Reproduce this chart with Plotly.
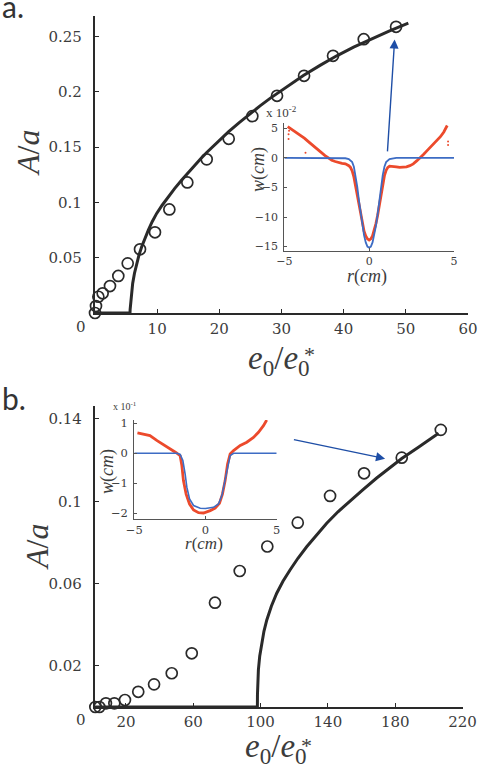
import plotly.graph_objects as go

W, H = 489, 771

# ---------------- Panel a data ----------------
a_pts_x = [0, 0.16, 0.54, 1.23, 2.41, 3.75, 5.26, 7.24, 9.65, 11.96, 14.85, 17.97, 21.51, 25.31, 29.28, 33.63, 38.29, 43.23, 48.43]
a_pts_y = [0, 0.0063, 0.0147, 0.0178, 0.0244, 0.0335, 0.0449, 0.0576, 0.073, 0.0937, 0.1181, 0.139, 0.1576, 0.1781, 0.1965, 0.2146, 0.2327, 0.2477, 0.2589]
a_curve_x = [0, 5.63, 5.65, 5.69, 5.74, 5.88, 6.06, 6.35, 6.71, 7.08, 7.51, 8.0, 8.58, 9.2, 9.92, 10.8, 11.8, 12.8, 13.95, 15.0, 16.09, 17.0, 17.97, 19.7, 21.5, 23.2, 25.0, 26.6, 28.16, 30.8, 33.52, 36.2, 38.89, 41.6, 44.25, 47.3, 50.4]
a_curve_y = [0, 0, 0.003, 0.006, 0.0088, 0.018, 0.0268, 0.036, 0.0449, 0.0525, 0.0599, 0.0675, 0.075, 0.0826, 0.0901, 0.0975, 0.1052, 0.1125, 0.1203, 0.1272, 0.134, 0.1395, 0.1452, 0.1548, 0.1641, 0.1723, 0.1806, 0.1876, 0.1942, 0.2047, 0.2148, 0.224, 0.2327, 0.2405, 0.2476, 0.2551, 0.2622]
a_xticks = [10, 20, 30, 40, 50, 60]
a_yticks = [0.05, 0.1, 0.15, 0.2, 0.25]
a_yticktext = ["0.05", "0.1", "0.15", "0.2", "0.25"]

# inset a
ia_red_r = [-4.8, -4.6, -4.4, -4.2, -4.0, -3.8, -3.6, -3.4, -3.2, -3.0, -2.8, -2.6, -2.4, -2.2, -2.0, -1.8, -1.6, -1.4, -1.2, -1.1, -1.0, -0.9, -0.8, -0.7, -0.6, -0.5, -0.4, -0.3, -0.2, -0.1, 0, 0.1, 0.2, 0.3, 0.4, 0.5, 0.6, 0.7, 0.8, 0.9, 1.0, 1.1, 1.2, 1.4, 1.6, 1.8, 2.0, 2.2, 2.4, 2.6, 2.8, 3.0, 3.2, 3.4, 3.6, 3.8, 4.0, 4.2, 4.4, 4.6]
ia_red_w = [5.3, 4.9, 4.6, 4.2, 3.8, 3.3, 2.8, 2.3, 1.8, 1.3, 0.8, 0.4, 0.0, -0.4, -0.6, -0.8, -0.9, -1.0, -1.3, -1.6, -2.2, -3.2, -4.8, -6.6, -8.3, -9.9, -11.2, -12.4, -13.2, -13.7, -13.9, -13.7, -13.2, -12.3, -11.1, -9.7, -8.0, -6.2, -4.4, -3.0, -2.1, -1.6, -1.4, -1.4, -1.5, -1.6, -1.6, -1.5, -1.3, -1.0, -0.5, 0.0, 0.6, 1.2, 1.8, 2.4, 3.0, 3.6, 4.4, 5.5]
ia_out_r = [-4.75, -4.75, -4.72, -3.75, 4.65, 4.65]
ia_out_w = [3.2, 4.0, 4.6, 0.9, 2.2, 2.8]
ia_blue_r = [-5, -1.6, -1.4, -1.2, -1.0, -0.9, -0.8, -0.7, -0.6, -0.5, -0.4, -0.3, -0.2, -0.1, 0, 0.1, 0.2, 0.3, 0.4, 0.5, 0.6, 0.7, 0.8, 0.9, 1.0, 1.2, 1.4, 1.6, 5]
ia_blue_w = [0, 0, -0.05, -0.2, -0.7, -1.5, -2.9, -4.9, -7.2, -9.5, -11.5, -13.1, -14.3, -15.0, -15.2, -15.0, -14.3, -13.1, -11.5, -9.5, -7.2, -4.9, -2.9, -1.5, -0.7, -0.2, -0.05, 0, 0]
ia_yticks = [5, 0, -5, -10, -15]
ia_xticks = [-5, 0, 5]

# ---------------- Panel b data ----------------
b_pts_x = [1.8, 4.2, 8.1, 13.1, 19.4, 27.3, 36.7, 47.2, 59.1, 72.9, 87.6, 104.0, 122.1, 141.3, 161.5, 183.9, 207.1]
b_pts_y = [0, 0, 0.0018, 0.0018, 0.0034, 0.0074, 0.011, 0.0164, 0.0261, 0.0507, 0.0661, 0.078, 0.0896, 0.1026, 0.1136, 0.1212, 0.1347]
b_curve_x = [1.6, 98.1, 98.15, 98.3, 98.7, 99.5, 100.7, 102.0, 103.7, 106.4, 109.6, 113.3, 117.5, 122.2, 127.4, 133.1, 139.3, 146.0, 153.2, 160.9, 169.0, 176.4, 183.9, 193.8, 203.7, 205.8]
b_curve_y = [0, 0, 0.006, 0.012, 0.018, 0.0248, 0.031, 0.0368, 0.0423, 0.049, 0.0553, 0.0611, 0.0666, 0.0723, 0.0779, 0.0836, 0.0893, 0.0949, 0.1002, 0.1056, 0.1113, 0.1161, 0.1208, 0.1263, 0.1319, 0.1331]
b_xticks = [20, 60, 100, 140, 180, 220]
b_yticks = [0.02, 0.06, 0.1, 0.14]
b_yticktext = ["0.02", "0.06", "0.1", "0.14"]

# inset b
ib_red_r = [-4.78, -4.4, -3.9, -3.4, -2.95, -2.48, -2.06, -1.78, -1.66, -1.55, -1.36, -1.12, -0.84, -0.49, -0.14, 0.33, 0.68, 0.98, 1.19, 1.38, 1.55, 1.73, 1.97, 2.44, 2.9, 3.37, 3.72, 4.07, 4.3]
ib_red_w = [0.68, 0.64, 0.59, 0.42, 0.29, 0.14, 0.02, -0.08, -0.41, -0.91, -1.36, -1.69, -1.89, -1.98, -1.99, -1.91, -1.83, -1.67, -1.36, -0.91, -0.36, -0.02, 0.09, 0.26, 0.37, 0.53, 0.7, 0.92, 1.11]
ib_blue_r = [-5, -2.0, -1.78, -1.59, -1.43, -1.31, -1.12, -0.84, -0.37, 0, 0.56, 0.91, 1.15, 1.38, 1.57, 1.73, 1.97, 5]
ib_blue_w = [0, 0, -0.04, -0.24, -0.69, -1.13, -1.52, -1.74, -1.83, -1.84, -1.8, -1.69, -1.41, -0.91, -0.41, -0.08, 0, 0]
ib_yticks = [1, 0, -1, -2]
ib_xticks = [-5, 0, 5]

# arrows (head, tail) in main-axis data coordinates
arrow_a = dict(x=48.2, y=0.2475, ax=47.03, ay=0.1449)
arrow_b = dict(x=174.0, y=0.1207, ax=118.9, ay=0.1301)

# ---------------- styling ----------------
INK = "#2a2a2a"
TXT = "#3c3c3c"
RED = "#ec4a2c"
BLUE = "#3d6cc4"
ARROW = "#1e4ea6"
SERIF = "Liberation Serif, DejaVu Serif, Times New Roman, serif"
TICKF = "DejaVu Serif, Liberation Serif, serif"


def px_x(p):
    return p / W


def px_y(p):
    return 1 - p / H


fig = go.Figure()

# panel a main
fig.add_trace(go.Scatter(x=a_curve_x, y=a_curve_y, mode="lines", line=dict(color=INK, width=3),
                         xaxis="x", yaxis="y", hoverinfo="skip"))
fig.add_trace(go.Scatter(x=a_pts_x, y=a_pts_y, mode="markers",
                         marker=dict(symbol="circle-open", size=11, color=INK, line=dict(width=1.7)),
                         xaxis="x", yaxis="y", cliponaxis=False))
# inset a
fig.add_trace(go.Scatter(x=ia_red_r, y=ia_red_w, mode="lines", line=dict(color=RED, width=2.8),
                         xaxis="x2", yaxis="y2"))
fig.add_trace(go.Scatter(x=ia_out_r, y=ia_out_w, mode="markers", marker=dict(color=RED, size=2),
                         xaxis="x2", yaxis="y2"))
fig.add_trace(go.Scatter(x=ia_blue_r, y=ia_blue_w, mode="lines", line=dict(color=BLUE, width=1.8),
                         xaxis="x2", yaxis="y2"))
# panel b main
fig.add_trace(go.Scatter(x=b_curve_x, y=b_curve_y, mode="lines", line=dict(color=INK, width=3),
                         xaxis="x3", yaxis="y3"))
fig.add_trace(go.Scatter(x=b_pts_x, y=b_pts_y, mode="markers",
                         marker=dict(symbol="circle-open", size=11, color=INK, line=dict(width=1.7)),
                         xaxis="x3", yaxis="y3", cliponaxis=False))
# inset b
fig.add_trace(go.Scatter(x=ib_red_r, y=ib_red_w, mode="lines", line=dict(color=RED, width=2.8),
                         xaxis="x4", yaxis="y4"))
fig.add_trace(go.Scatter(x=ib_blue_r, y=ib_blue_w, mode="lines", line=dict(color=BLUE, width=1.6),
                         xaxis="x4", yaxis="y4"))

main_tick_font = dict(family=TICKF, size=15, color=TXT)
inset_tick_font = dict(family=TICKF, size=11, color=TXT)


def main_axis(**kw):
    d = dict(showline=True, linecolor=INK, linewidth=2.2, ticks="inside", ticklen=4, tickwidth=1.3,
             tickcolor=INK, showgrid=False, zeroline=False, tickfont=main_tick_font, fixedrange=True,
             automargin=False)
    d.update(kw)
    return d


def inset_axis(**kw):
    d = dict(showline=True, linecolor="#555555", linewidth=1.2, ticks="inside", ticklen=3, tickwidth=1,
             tickcolor="#555555", showgrid=False, zeroline=False, tickfont=inset_tick_font, fixedrange=True,
             automargin=False)
    d.update(kw)
    return d


fig.update_layout(
    width=W, height=H, autosize=False, margin=dict(l=0, r=0, t=0, b=0, pad=0, autoexpand=False),
    paper_bgcolor="white", plot_bgcolor="rgba(0,0,0,0)", showlegend=False,
    xaxis=main_axis(domain=[px_x(95), px_x(468)], range=[0, 60], tickvals=a_xticks, anchor="y", ticklabelstandoff=1),
    yaxis=main_axis(domain=[px_y(313), px_y(16)], range=[0, 0.2687], tickvals=a_yticks, ticktext=a_yticktext,
                    anchor="x", ticklabelstandoff=8),
    xaxis2=inset_axis(domain=[px_x(284.3), px_x(454)], range=[-5, 5], tickvals=ia_xticks, anchor="y2",
                      ticklabelstandoff=0),
    yaxis2=inset_axis(domain=[px_y(250.7), px_y(122.7)], range=[-15.7, 5.97], tickvals=ia_yticks, anchor="x2",
                      ticklabelstandoff=3),
    xaxis3=main_axis(domain=[px_x(95), px_x(462.5)], range=[1.6, 220], tickvals=b_xticks, anchor="y3", ticklabelstandoff=0),
    yaxis3=main_axis(domain=[px_y(707), px_y(406)], range=[0, 0.1463], tickvals=b_yticks, ticktext=b_yticktext,
                     anchor="x3", ticklabelstandoff=8),
    xaxis4=inset_axis(domain=[px_x(134.3), px_x(276.7)], range=[-5, 5], tickvals=ib_xticks, anchor="y4",
                      ticklabelstandoff=0, tickfont=dict(family=TICKF, size=11.5, color=TXT)),
    yaxis4=inset_axis(domain=[px_y(519), px_y(420)], range=[-2.19, 1.11], tickvals=ib_yticks, anchor="x4",
                      ticklabelstandoff=3, tickfont=dict(family=TICKF, size=11.5, color=TXT)),
)

ann = []


def txt(x, y, text, size, family=SERIF, color=TXT, angle=0, xanchor="center", yanchor="middle"):
    ann.append(dict(x=px_x(x), y=px_y(y), xref="paper", yref="paper", text=text, showarrow=False,
                    font=dict(family=family, size=size, color=color), textangle=angle,
                    xanchor=xanchor, yanchor=yanchor))


# panel labels
txt(0, 6, "a.", 30, family="Lato", color="#333333", xanchor="left")
txt(0, 398, "b.", 30, family="Lato", color="#333333", xanchor="left")
# corner zeros
txt(81, 327, "0", 15, family=TICKF)
txt(81, 720, "0", 15, family=TICKF)
# main axis titles
txt(28, 153, "<i>A</i>/<i>a</i>", 32, angle=-90)
txt(37, 547, "<i>A</i>/<i>a</i>", 32, angle=-90)
txt(279, 360, "<i>e</i><sub>0</sub>/<i>e</i><sub>0</sub>", 33)
txt(309, 355, "*", 22)
txt(276, 748, "<i>e</i><sub>0</sub>/<i>e</i><sub>0</sub>", 33)
txt(306, 745, "*", 22)
# inset titles
txt(258, 170, "<i>w</i>(<i>cm</i>)", 18, angle=-90)
txt(367, 276, "<i>r</i>(<i>cm</i>)", 18)
txt(281, 112, "x 10<sup>-2</sup>", 13)
txt(107, 472, "<i>w</i>(<i>cm</i>)", 18, angle=-90)
txt(204, 543, "<i>r</i>(<i>cm</i>)", 17)
txt(125, 406, "x 10<sup>-1</sup>", 10)

# arrows
ann.append(dict(xref="x", yref="y", axref="x", ayref="y", **arrow_a, showarrow=True, text="",
                arrowhead=2, arrowsize=1.3, arrowwidth=1.4, arrowcolor=ARROW))
ann.append(dict(xref="x3", yref="y3", axref="x3", ayref="y3", **arrow_b, showarrow=True, text="",
                arrowhead=2, arrowsize=1.3, arrowwidth=1.4, arrowcolor=ARROW))

fig.update_layout(annotations=ann)

fig.write_html("out.html")
